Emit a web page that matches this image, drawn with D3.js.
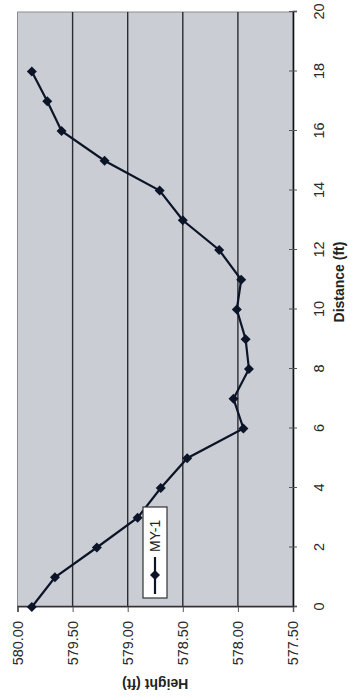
<!DOCTYPE html>
<html>
<head>
<meta charset="utf-8">
<script src="https://cdn.jsdelivr.net/npm/d3@7"></script>
<style>
  body { margin: 0; background: #fff; }
  svg { display: block; font-family: "Liberation Sans", Arial, sans-serif; }
</style>
</head>
<body>
<div id="graph"></div>
<script>
const distances = [0, 1, 2, 3, 4, 5, 6, 7, 8, 9, 10, 11, 12, 13, 14, 15, 16, 17, 18];
const heights = [579.87, 579.66, 579.28, 578.91, 578.70, 578.46, 577.95, 578.04, 577.90, 577.93,
                 578.01, 577.97, 578.17, 578.50, 578.71, 579.21, 579.60, 579.73, 579.87];
const distanceTicks = [0, 2, 4, 6, 8, 10, 12, 14, 16, 18, 20];
const heightTicks = [577.5, 578, 578.5, 579, 579.5, 580];
const seriesName = 'MY-1';

// chart is drawn upright (700 wide, 353 high) then turned a quarter left
const chartWidth = 700;
const chartHeight = 353;
const marginLeft = 93;
const marginRight = 12;
const marginTop = 17.5;
const marginBottom = 60;

const x = d3.scaleLinear().domain([0, 20]).range([marginLeft, chartWidth - marginRight]);
const y = d3.scaleLinear().domain([577.5, 580]).range([chartHeight - marginBottom, marginTop]);

const svg = d3.select('#graph')
  .append('svg')
  .attr('width', 353)
  .attr('height', 700);

const g = svg.append('g')
  .attr('transform', 'translate(0,700) rotate(-90)');

// plot area
g.append('rect')
  .attr('x', x(0))
  .attr('y', y(580))
  .attr('width', x(20) - x(0))
  .attr('height', y(577.5) - y(580))
  .attr('fill', '#cacdd4')
  .attr('stroke', '#8a8d92')
  .attr('stroke-width', 1);

// gridlines
g.selectAll('line.grid')
  .data(heightTicks.filter(d => d > 577.5 && d < 580))
  .enter()
  .append('line')
    .attr('class', 'grid')
    .attr('x1', x(0))
    .attr('x2', x(20))
    .attr('y1', d => y(d))
    .attr('y2', d => y(d))
    .attr('stroke', '#2a2c30')
    .attr('stroke-width', 1.4);

// distance axis
const xAxis = g.append('g')
  .attr('transform', 'translate(0,' + y(577.5) + ')')
  .call(d3.axisBottom(x).tickValues(distanceTicks).tickSize(4).tickPadding(17).tickFormat(d3.format('d')));
xAxis.select('.domain').attr('stroke', '#111').attr('stroke-width', 1.6);
xAxis.selectAll('.tick line').attr('y1', -4).attr('stroke', '#555');
xAxis.selectAll('text').attr('font-size', 14.5).attr('fill', '#2a2a2a');

// height axis
const yAxis = g.append('g')
  .attr('transform', 'translate(' + x(0) + ',0)')
  .call(d3.axisLeft(y).tickValues(heightTicks).tickSize(5).tickPadding(9).tickFormat(d3.format('.2f')));
yAxis.select('.domain').attr('stroke', '#333').attr('stroke-width', 1.4);
yAxis.selectAll('.tick line').attr('stroke', '#555');
yAxis.selectAll('text').attr('font-size', 14.5).attr('fill', '#2a2a2a');

// axis titles
g.append('text')
  .attr('x', 418)
  .attr('y', 344)
  .attr('text-anchor', 'middle')
  .attr('font-size', 14)
  .attr('font-weight', 'bold')
  .attr('fill', '#222')
  .text('Distance (ft)');

g.append('text')
  .attr('transform', 'translate(21,' + ((y(577.5) + y(580)) / 2) + ') rotate(-90)')
  .attr('text-anchor', 'middle')
  .attr('font-size', 14)
  .attr('font-weight', 'bold')
  .attr('fill', '#222')
  .text('Height (ft)');

// series
const line = d3.line()
  .x((d, i) => x(distances[i]))
  .y(d => y(d));

g.append('path')
  .datum(heights)
  .attr('d', line)
  .attr('fill', 'none')
  .attr('stroke', '#0c1428')
  .attr('stroke-width', 2.2);

const diamond = 'M0,-5L5,0L0,5L-5,0Z';

g.selectAll('path.marker')
  .data(heights)
  .enter()
  .append('path')
    .attr('class', 'marker')
    .attr('d', diamond)
    .attr('transform', (d, i) => 'translate(' + x(distances[i]) + ',' + y(d) + ')')
    .attr('fill', '#0c1428');

// legend
const legend = g.append('g').attr('transform', 'translate(102,143)');
legend.append('rect')
  .attr('width', 91)
  .attr('height', 24)
  .attr('fill', '#fff')
  .attr('stroke', '#333')
  .attr('stroke-width', 1.2);
legend.append('line')
  .attr('x1', 4)
  .attr('x2', 41)
  .attr('y1', 12)
  .attr('y2', 12)
  .attr('stroke', '#0c1428')
  .attr('stroke-width', 2.2);
legend.append('path')
  .attr('d', diamond)
  .attr('transform', 'translate(23,12)')
  .attr('fill', '#0c1428');
legend.append('text')
  .attr('x', 46)
  .attr('y', 17)
  .attr('font-size', 14)
  .attr('fill', '#222')
  .text(seriesName);
</script>
</body>
</html>
